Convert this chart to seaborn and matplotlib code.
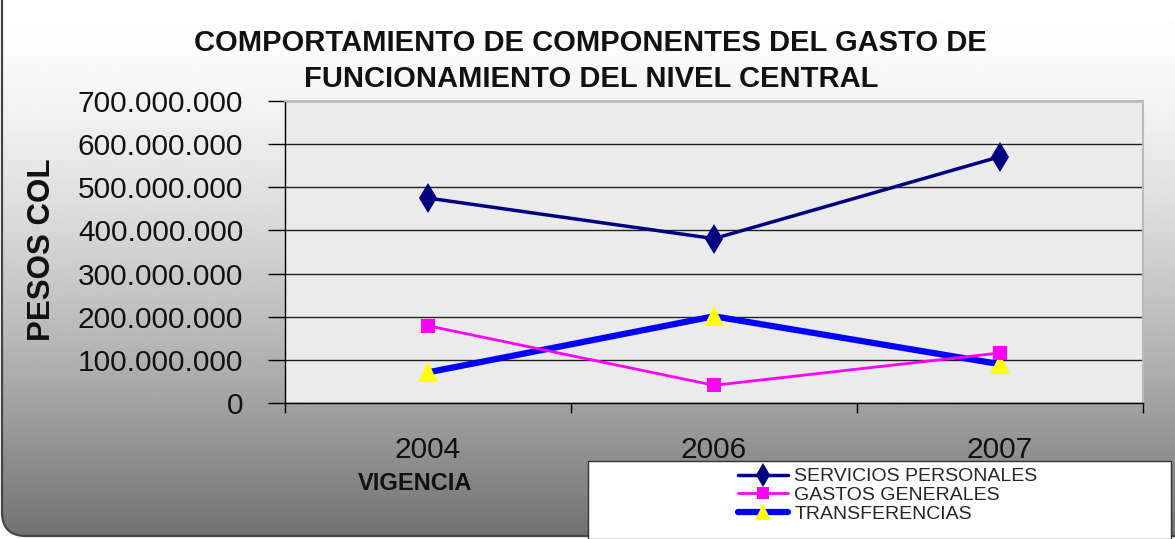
import numpy as np
import pandas as pd
import matplotlib
matplotlib.use("Agg")
import matplotlib.pyplot as plt
import seaborn as sns
from matplotlib.ticker import FuncFormatter, FixedLocator
from matplotlib.patches import FancyBboxPatch, Rectangle

# ---- data ----
years = ["2004", "2006", "2007"]
servicios_personales = [475_000_000, 381_000_000, 571_000_000]
gastos_generales = [179_000_000, 41_000_000, 116_000_000]
transferencias = [71_000_000, 201_000_000, 90_000_000]
series_names = ["SERVICIOS PERSONALES", "GASTOS GENERALES", "TRANSFERENCIAS"]

sns.set_theme(style="white")
plt.rcParams["font.family"] = ["Liberation Sans", "DejaVu Sans"]

W, H = 1175, 539
fig = plt.figure(figsize=(W / 100, H / 100), dpi=100)

# background gradient (chart area)
bg = fig.add_axes([0, 0, 1, 1], zorder=-10)
bg.set_xlim(0, W)
bg.set_ylim(H, 0)
bg.axis("off")
yy = np.linspace(0, 1, 300)[:, None]
vals = 1 - (143 / 255) * yy ** 1.5
grad = np.repeat(vals, 2, axis=1)
im = bg.imshow(grad, cmap="gray", vmin=0, vmax=1, extent=[0, W, H, 0], aspect="auto")
box_kw = dict(boxstyle="round,pad=0,rounding_size=24")
clip = FancyBboxPatch((2, -40), W + 40, 40 + 536, transform=bg.transData,
                      facecolor="none", edgecolor="none", **box_kw)
bg.add_patch(clip)
im.set_clip_path(clip)
edge = FancyBboxPatch((2, -40), W + 40, 40 + 536, facecolor="none",
                      edgecolor="#444444", linewidth=1.6, **box_kw)
bg.add_patch(edge)

# plot axes
ax = fig.add_axes([285 / W, 1 - 403 / H, (1143 - 285) / W, (403 - 101) / H])
ax.set_facecolor("#ebebeb")

df = pd.DataFrame({"year": years * 3,
                   "value": servicios_personales + gastos_generales + transferencias,
                   "serie": [series_names[0]] * 3 + [series_names[1]] * 3 + [series_names[2]] * 3})

styles = {
    series_names[0]: dict(color="#000080", lw=2.5, marker="d", ms=15, mfc="#000080", mec="#000080", z=5),
    series_names[1]: dict(color="#FF00FF", lw=2.0, marker="s", ms=10, mfc="#FF00FF", mec="#FF00FF", z=4),
    series_names[2]: dict(color="#0000FF", lw=4.5, marker="^", ms=14, mfc="#FFFF00", mec="#FFFF00", z=3),
}
for name in series_names:
    st = styles[name]
    sub = df[df["serie"] == name]
    sns.lineplot(data=sub, x="year", y="value", ax=ax, color=st["color"], linewidth=st["lw"],
                 marker=st["marker"], markersize=st["ms"], markerfacecolor=st["mfc"],
                 markeredgecolor=st["mec"], markeredgewidth=0, label=name, zorder=st["z"],
                 legend=False)

ax.set_xlim(-0.5, 2.5)
ax.set_ylim(0, 700_000_000)
ax.yaxis.set_major_locator(FixedLocator(np.arange(0, 700_000_001, 100_000_000)))
ax.yaxis.set_major_formatter(FuncFormatter(lambda v, p: f"{v:,.0f}".replace(",", ".")))
ax.xaxis.set_major_locator(FixedLocator([-0.5, 0.5, 1.5, 2.5]))
ax.xaxis.set_minor_locator(FixedLocator([0, 1, 2]))
ax.set_xticklabels([])
ax.set_xticklabels(years, minor=True)
ax.tick_params(axis="x", which="major", length=7, width=1, color="black", direction="out", bottom=True)
ax.tick_params(axis="x", which="minor", length=0, labelsize=21.5, pad=24, labelcolor="#111111")
ax.tick_params(axis="y", length=12, width=1, color="black", direction="out", left=True,
               labelsize=21.5, pad=18, labelcolor="#111111")
ax.grid(axis="y", color="#222222", linewidth=1)
ax.set_axisbelow(True)
for s in ["top", "right"]:
    ax.spines[s].set_color("#bbbbbb")
    ax.spines[s].set_linewidth(1.5)
for s in ["left", "bottom"]:
    ax.spines[s].set_color("black")
    ax.spines[s].set_linewidth(1)
ax.set_xlabel("")
ax.set_ylabel("")

# titles / labels
fig.text(590 / W, 1 - 43 / H, "COMPORTAMIENTO DE COMPONENTES DEL GASTO DE", ha="center", va="center",
         fontsize=21, fontweight="bold", color="#111111")
fig.text(591 / W, 1 - 79 / H, "FUNCIONAMIENTO DEL NIVEL CENTRAL", ha="center", va="center",
         fontsize=21, fontweight="bold", color="#111111")
fig.text(42 / W, 1 - 250 / H, "PESOS COL", rotation=90, ha="center", va="center",
         fontsize=22.5, fontweight="bold", color="#111111")
fig.text(415 / W, 1 - 484 / H, "VIGENCIA", ha="center", va="center",
         fontsize=17, fontweight="bold", color="#111111")

# legend box
fig.patches.append(Rectangle((588 / W, 0), 1 - 588 / W - 0.003, (539 - 461) / H,
                             transform=fig.transFigure, facecolor="white",
                             edgecolor="#333333", linewidth=1, zorder=5))
handles, labels = ax.get_legend_handles_labels()
leg = fig.legend(handles, labels, loc="upper left", bbox_to_anchor=(730 / W, 1 - 460 / H),
                 frameon=False, fontsize=14, handlelength=2.6, labelspacing=0.05,
                 handletextpad=0.3, borderaxespad=0, markerscale=0.8)
leg.set_zorder(6)

fig.savefig("out.png", dpi=100)
